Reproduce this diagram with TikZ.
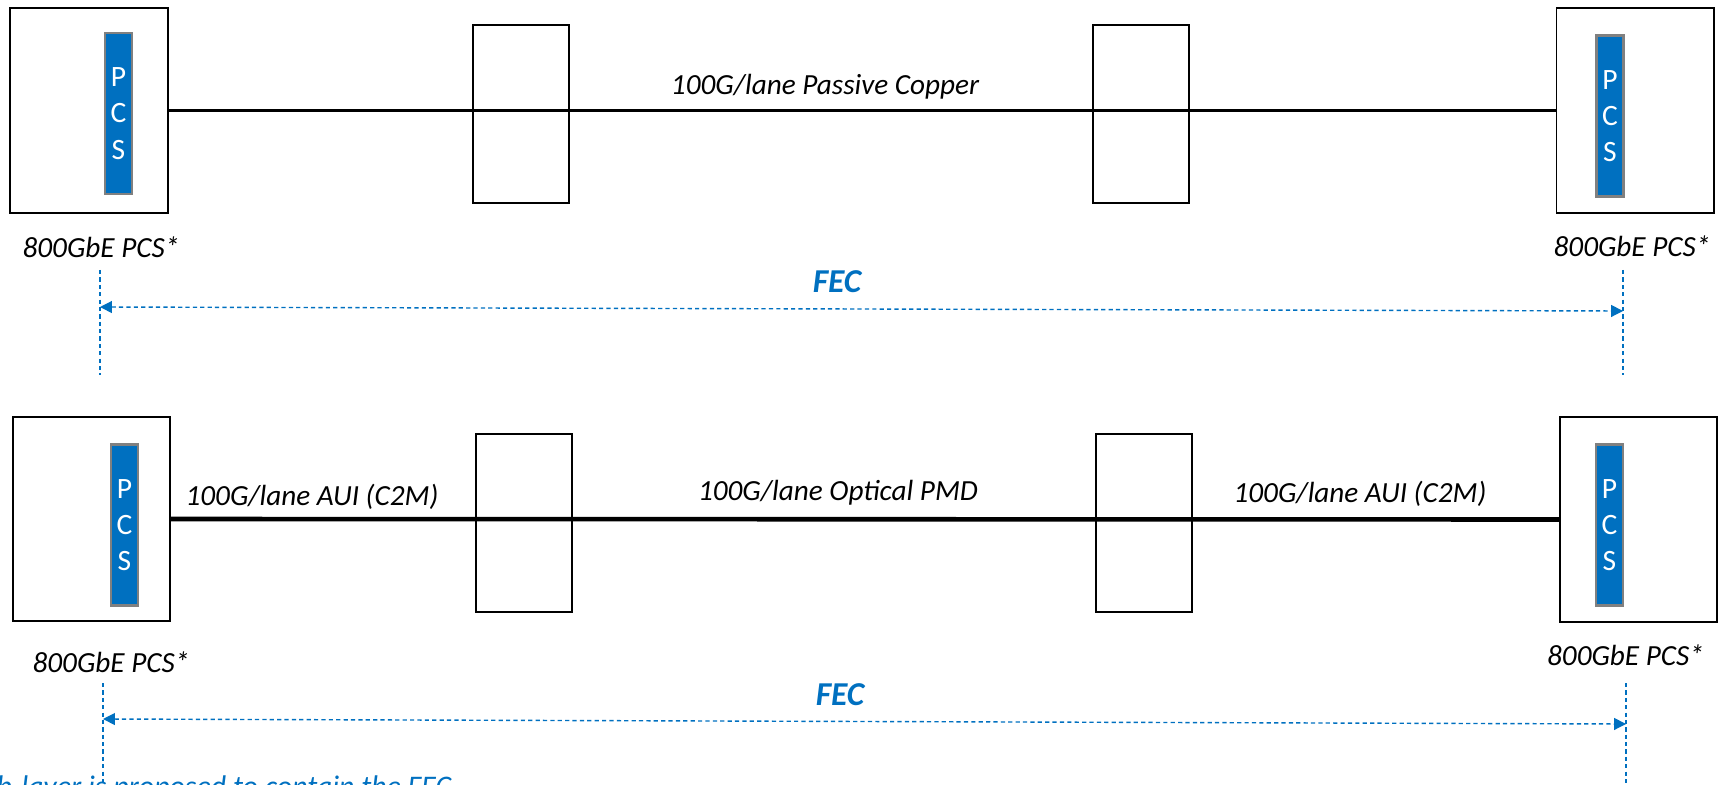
\documentclass[tikz,border=0pt]{standalone}
\usepackage{fontspec}
\setmainfont{Carlito}
\usetikzlibrary{arrows.meta}
\definecolor{fecblue}{HTML}{0070C0}

\begin{document}
\begin{tikzpicture}[x=0.01cm,y=-0.01cm,
	host/.style={draw,line width=0.55pt,minimum width=1.57cm,minimum height=2.04cm,inner sep=0pt},
	pcs/.style={draw=gray,line width=0.6pt,fill=fecblue,text=white,minimum width=0.27cm,
		minimum height=1.61cm,inner sep=0pt,align=center,font=\fontsize{8.4}{10.3}\selectfont},
	mod/.style={draw,line width=0.55pt,minimum width=0.96cm,minimum height=1.78cm,inner sep=0pt},
	lbl/.style={font=\fontsize{8.3}{10}\selectfont\itshape,anchor=base,inner sep=0pt},
	feclbl/.style={font=\fontsize{9.5}{11}\selectfont\bfseries\itshape,text=fecblue,anchor=base,inner sep=0pt},
	fecguide/.style={draw=fecblue,line width=0.4pt,dash pattern=on 1.2pt off 0.9pt},
	fecspan/.style={fecguide,{Triangle[length=3.4pt,width=3.4pt]}-{Triangle[length=3.4pt,width=3.4pt]}}]
	
	\useasboundingbox (0,0) rectangle (1724,785);
	\clip (0,0) rectangle (1724,785);
	
	% Top: passive copper link
	\node[host] (tl) at (89,110.5) {};
	\node[host] (tr) at (1635,110.5) {};
	\node[pcs] (tlp) at (118.5,113.5) {P\\C\\S};
	\node[pcs] (trp) at (1610,116) {P\\C\\S};
	\node[mod] (tm1) at (521,114) {};
	\node[mod] (tm2) at (1141,114) {};
	\draw[line width=0.85pt] (tl.east) -- (tr.west);
	\node[lbl] (tcu) at (825,95) {100G/lane Passive Copper};
	\node[lbl] (tlt) at (101,258) {800GbE PCS*};
	\node[lbl] (trt) at (1632,256) {800GbE PCS*};
	
	% Top FEC span
	\coordinate (ta1) at (100,270);
	\coordinate (ta2) at (100,375);
	\coordinate (tb1) at (1623,270);
	\coordinate (tb2) at (1623,375);
	\coordinate (tfl) at (100,307);
	\coordinate (tfr) at (1623,311);
	\draw[fecguide] (ta1) -- (ta2);
	\draw[fecguide] (tb1) -- (tb2);
	\draw[fecspan] (tfl) -- (tfr);
	\node[feclbl] (tfec) at (837,292) {FEC};
	
	% Bottom: AUI + optical PMD link
	\node[host] (bl) at (91.5,519) {};
	\node[host] (br) at (1638.5,519.5) {};
	\node[pcs] (blp) at (124.5,525) {P\\C\\S};
	\node[pcs] (brp) at (1609.5,525) {P\\C\\S};
	\node[mod] (bm1) at (524,523) {};
	\node[mod] (bm2) at (1144,523) {};
	\draw[line width=1.3pt] (bl.east) -- (br.west);
	\node[lbl] (bau1) at (312,505) {100G/lane AUI (C2M)};
	\node[lbl] (bpmd) at (838,500) {100G/lane Optical PMD};
	\node[lbl] (bau2) at (1360,502) {100G/lane AUI (C2M)};
	\node[lbl] (blt) at (111,672) {800GbE PCS*};
	\node[lbl] (brt) at (1625.5,665) {800GbE PCS*};
	
	% Bottom FEC span
	\coordinate (ba1) at (103,683);
	\coordinate (ba2) at (103,790);
	\coordinate (bb1) at (1626,683);
	\coordinate (bb2) at (1626,790);
	\coordinate (bfl) at (103,719);
	\coordinate (bfr) at (1626,724);
	\draw[fecguide] (ba1) -- (ba2);
	\draw[fecguide] (bb1) -- (bb2);
	\draw[fecspan] (bfl) -- (bfr);
	\node[feclbl] (bfec) at (840,705) {FEC};
	
	% Footnote, cut by the frame
	\node[font=\fontsize{8.5}{10}\selectfont\itshape,text=fecblue,anchor=base east,inner sep=0pt]
		(note) at (452,796) {sub-layer is proposed to contain the FEC};
	
\end{tikzpicture}
\end{document}
